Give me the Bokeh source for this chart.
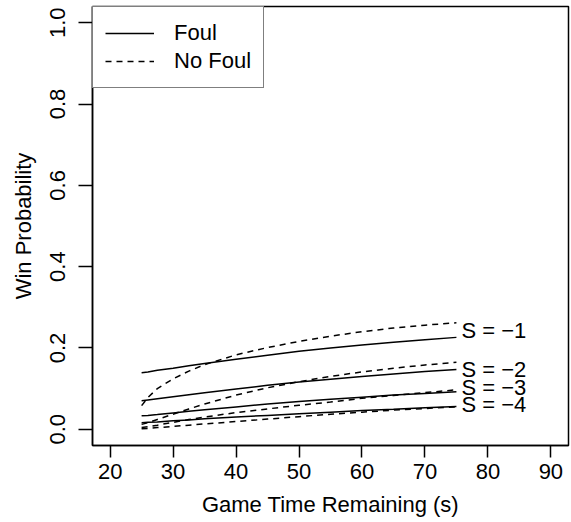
from bokeh.plotting import figure
from bokeh.models import Range1d, FixedTicker, PrintfTickFormatter, Legend, LegendItem
from bokeh.core.properties import value
from bokeh.embed import file_html
from bokeh.resources import INLINE

# ---- data ----
time_s = [25, 26, 27.5, 30, 32.5, 35, 40, 45, 50, 55, 60, 65, 70, 75]

foul_s1 = [0.139, 0.141, 0.145, 0.150, 0.156, 0.162, 0.172, 0.182, 0.192, 0.200, 0.207, 0.214, 0.220, 0.226]
nofoul_s1 = [0.058, 0.078, 0.100, 0.124, 0.143, 0.159, 0.183, 0.201, 0.216, 0.229, 0.240, 0.249, 0.256, 0.262]

foul_s2 = [0.070, 0.072, 0.075, 0.080, 0.085, 0.090, 0.099, 0.108, 0.116, 0.123, 0.130, 0.136, 0.142, 0.147]
nofoul_s2 = [0.012, 0.016, 0.024, 0.037, 0.050, 0.062, 0.084, 0.102, 0.117, 0.130, 0.141, 0.150, 0.158, 0.165]

foul_s3 = [0.033, 0.034, 0.036, 0.040, 0.044, 0.048, 0.055, 0.062, 0.068, 0.074, 0.079, 0.084, 0.088, 0.092]
nofoul_s3 = [0.004, 0.006, 0.010, 0.017, 0.024, 0.030, 0.041, 0.050, 0.059, 0.067, 0.076, 0.083, 0.090, 0.097]

foul_s4 = [0.016, 0.017, 0.018, 0.021, 0.023, 0.026, 0.030, 0.034, 0.038, 0.042, 0.046, 0.049, 0.053, 0.056]
nofoul_s4 = [0.001, 0.002, 0.004, 0.007, 0.010, 0.013, 0.019, 0.025, 0.031, 0.037, 0.042, 0.047, 0.051, 0.055]

score_labels = ["S = \u22121", "S = \u22122", "S = \u22123", "S = \u22124"]
label_x = [75, 75, 75, 75]
label_y = [0.243, 0.146, 0.102, 0.061]

x_ticks = [20, 30, 40, 50, 60, 70, 80, 90]
y_ticks = [0.0, 0.2, 0.4, 0.6, 0.8, 1.0]

FONT = "Liberation Sans"
FS = "22px"

p = figure(width=571, height=522, output_backend="svg", toolbar_location=None,
           x_range=Range1d(17.2, 92.8), y_range=Range1d(-0.04, 1.04),
           min_border_left=92, min_border_right=3, min_border_top=6, min_border_bottom=77,
           x_axis_label="Game Time Remaining (s)", y_axis_label="Win Probability")

p.xgrid.visible = False
p.ygrid.visible = False
p.outline_line_color = "black"
p.outline_line_width = 1.5
p.background_fill_color = "white"
p.border_fill_color = "white"

for ax in (p.xaxis[0], p.yaxis[0]):
    ax.axis_line_color = "black"
    ax.axis_line_width = 1.5
    ax.major_tick_line_color = "black"
    ax.major_tick_line_width = 1.5
    ax.major_tick_in = 0
    ax.minor_tick_line_color = None
    ax.major_label_text_font = FONT
    ax.major_label_text_font_size = FS
    ax.major_label_text_color = "black"
    ax.axis_label_text_font = FONT
    ax.axis_label_text_font_size = FS
    ax.axis_label_text_font_style = "normal"
    ax.axis_label_text_color = "black"

p.xaxis[0].ticker = FixedTicker(ticks=x_ticks)
p.xaxis[0].major_tick_out = 12
p.xaxis[0].major_label_standoff = 6
p.xaxis[0].axis_label_standoff = 10

p.yaxis[0].ticker = FixedTicker(ticks=y_ticks)
p.yaxis[0].formatter = PrintfTickFormatter(format="%.1f")
p.yaxis[0].major_tick_out = 14
p.yaxis[0].major_label_orientation = "vertical"
p.yaxis[0].major_label_standoff = 13
p.yaxis[0].axis_label_standoff = 12

LW = 1.5
DASH = "6 5"
r_foul = None
r_nofoul = None
for f, nf in ((foul_s1, nofoul_s1), (foul_s2, nofoul_s2), (foul_s3, nofoul_s3), (foul_s4, nofoul_s4)):
    rf = p.line(time_s, f, line_color="black", line_width=LW)
    rn = p.line(time_s, nf, line_color="black", line_width=LW, line_dash=DASH)
    if r_foul is None:
        r_foul, r_nofoul = rf, rn

p.text(x=label_x, y=label_y, text=score_labels, text_font=value(FONT), text_font_size=FS,
       text_align="left", text_baseline="middle", x_offset=5, text_color="black")

legend = Legend(items=[LegendItem(label="Foul", renderers=[r_foul]),
                       LegendItem(label="No Foul", renderers=[r_nofoul])],
                location="top_left", margin=0, padding=12, spacing=0,
                glyph_width=49, glyph_height=28, label_height=28, label_standoff=20,
                label_text_font=FONT, label_text_font_size=FS, label_text_color="black",
                border_line_color="black", border_line_width=1.5,
                background_fill_color="white", background_fill_alpha=1.0)
p.add_layout(legend)

open("out.html", "w").write(file_html(p, INLINE))
